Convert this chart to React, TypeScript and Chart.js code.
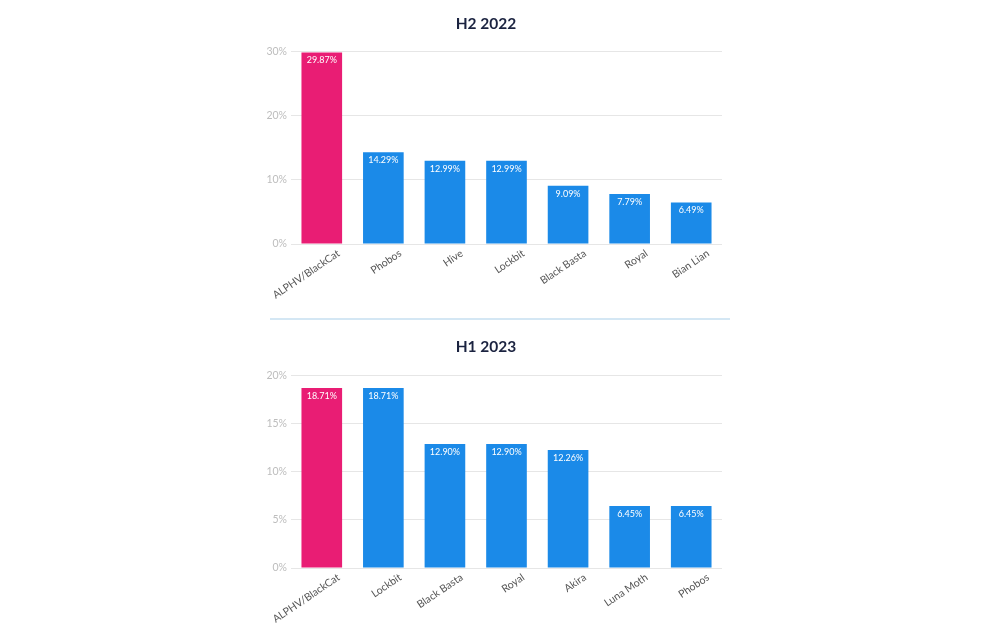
import React, { useEffect, useRef } from "react";
import { Chart, registerables } from "chart.js";

Chart.register(...registerables);

const h2Categories = ["ALPHV/BlackCat", "Phobos", "Hive", "Lockbit", "Black Basta", "Royal", "Bian Lian"];
const h2Values = [29.87, 14.29, 12.99, 12.99, 9.09, 7.79, 6.49];
const h1Categories = ["ALPHV/BlackCat", "Lockbit", "Black Basta", "Royal", "Akira", "Luna Moth", "Phobos"];
const h1Values = [18.71, 18.71, 12.9, 12.9, 12.26, 6.45, 6.45];

const PINK = "#e91d74";
const BLUE = "#1b8ae8";
const FONT = "Lato, 'Open Sans', sans-serif";

const valueLabels = {
  id: "valueLabels",
  afterDatasetsDraw(chart: any) {
    const ctx = chart.ctx;
    const meta = chart.getDatasetMeta(0);
    const data = chart.data.datasets[0].data as number[];
    ctx.save();
    ctx.font = `9px ${FONT}`;
    ctx.fillStyle = "#ffffff";
    ctx.textAlign = "center";
    ctx.textBaseline = "middle";
    meta.data.forEach((bar: any, i: number) => {
      ctx.fillText(data[i].toFixed(2) + "%", bar.x, bar.y + 8);
    });
    ctx.restore();
  },
};

function BarChart(props: {
  title: string;
  categories: string[];
  values: number[];
  max: number;
  step: number;
  top: number;
  height: number;
  titlePadTop: number;
  titlePadBottom: number;
  xHeight: number;
}) {
  const ref = useRef<HTMLCanvasElement | null>(null);
  useEffect(() => {
    if (!ref.current) return;
    const chart = new Chart(ref.current, {
      type: "bar",
      data: {
        labels: props.categories,
        datasets: [
          {
            data: props.values,
            backgroundColor: props.values.map((_, i) => (i === 0 ? PINK : BLUE)),
            borderWidth: 0,
            barPercentage: 0.66,
            categoryPercentage: 1,
          },
        ],
      },
      options: {
        animation: false,
        responsive: false,
        maintainAspectRatio: false,
        layout: { padding: { left: 50, right: 90, top: 0, bottom: 0 } },
        plugins: {
          legend: { display: false },
          tooltip: { enabled: false },
          title: {
            display: true,
            text: props.title,
            color: "#1b2340",
            font: { family: FONT, size: 15.5, weight: "bold" },
            padding: { top: props.titlePadTop, bottom: props.titlePadBottom },
          },
        },
        scales: {
          x: {
            grid: { display: false, drawTicks: false },
            border: { display: false },
            ticks: {
              color: "#555555",
              font: { family: FONT, size: 10.5 },
              minRotation: 34,
              maxRotation: 34,
              padding: 3,
              labelOffset: 17,
              autoSkip: false,
            },
            afterFit: (s: any) => {
              s.height = props.xHeight;
            },
          },
          y: {
            min: 0,
            max: props.max,
            grid: { color: "#e6e6e6", drawTicks: false },
            border: { display: false },
            ticks: {
              stepSize: props.step,
              color: "#bdbdbd",
              font: { family: FONT, size: 10.5 },
              padding: 4,
              callback: (v: any) => v + "%",
            },
            afterFit: (s: any) => {
              s.width = 41;
            },
          },
        },
      },
      plugins: [valueLabels],
    });
    return () => chart.destroy();
  }, []);
  return (
    <canvas
      ref={ref}
      width={612}
      height={props.height}
      style={{ position: "absolute", left: 200, top: props.top, width: 612, height: props.height }}
    />
  );
}

export default function App() {
  return (
    <div style={{ position: "fixed", left: 0, top: 0, width: 1000, height: 638, background: "#ffffff", overflow: "hidden" }}>
      <BarChart title="H2 2022" categories={h2Categories} values={h2Values} max={30} step={10} top={0} height={310} titlePadTop={15} titlePadBottom={18} xHeight={66} />
      <div style={{ position: "absolute", left: 270, top: 318, width: 460, height: 2, background: "#d4e7f4" }} />
      <BarChart title="H1 2023" categories={h1Categories} values={h1Values} max={20} step={5} top={324} height={314} titlePadTop={14} titlePadBottom={19} xHeight={70} />
    </div>
  );
}
